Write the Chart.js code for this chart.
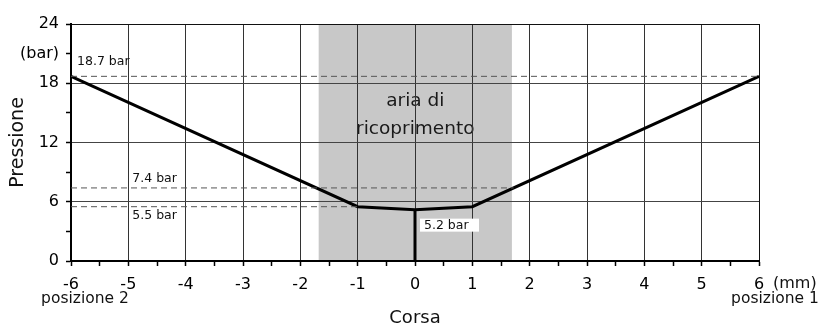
<!DOCTYPE html>
<html>
<head>
<meta charset="utf-8">
<script src="https://cdn.jsdelivr.net/npm/chart.js@4/dist/chart.umd.min.js"></script>
<style>
  html, body { margin: 0; padding: 0; background: #fff; }
  #wrap { width: 823px; height: 327px; }
</style>
</head>
<body>
<div id="wrap"><canvas id="pressureChart" width="823" height="327"></canvas></div>
<script>
// stroke (mm) vs pressure (bar)
const strokeMm = [-6, -1, 0, 1, 6];
const pressureBar = [18.7, 5.5, 5.2, 5.5, 18.7];

// reference levels (dashed) and where each dashed line stops
const refLevels = [18.7, 7.4, 5.5];
const refStart = [-6, -6, -6];
const refEnd = [6, 1.72, -1];

const minPressure = 5.2;
const minStroke = 0;

// covering zone ("aria di ricoprimento")
const overlapZone = [-1.68, 1.69];

const yTickValues = [0, 3, 6, 9, 12, 15, 18, 21, 24];
const yTickLabels = ["0", "", "6", "", "12", "", "18", "(bar)", "24"];

const FONT = "'DejaVu Sans', Verdana, sans-serif";

const toPoints = (xs, ys) => xs.map((x, i) => ({ x, y: ys[i] }));

const dashedSets = refLevels.map((lvl, i) => ({
  data: [{ x: refStart[i], y: lvl }, { x: refEnd[i], y: lvl }],
  borderColor: "#555",
  borderWidth: 1,
  borderDash: [6, 4],
  pointRadius: 0,
  showLine: true,
}));

const annotations = {
  id: "annotations",
  beforeDraw(chart) {
    const { ctx, chartArea, scales } = chart;
    const x0 = scales.x.getPixelForValue(overlapZone[0]);
    const x1 = scales.x.getPixelForValue(overlapZone[1]);
    ctx.save();
    ctx.fillStyle = "#c8c8c8";
    ctx.fillRect(x0, chartArea.top, x1 - x0, chartArea.bottom - chartArea.top);
    // zone caption sits under the grid lines
    ctx.fillStyle = "#1a1a1a";
    ctx.textBaseline = "middle";
    ctx.textAlign = "center";
    ctx.font = "18.5px " + FONT;
    const zc = scales.x.getPixelForValue((overlapZone[0] + overlapZone[1]) / 2);
    ctx.fillText("aria di", zc, 101);
    ctx.fillText("ricoprimento", zc, 129);
    ctx.restore();
  },
  afterDraw(chart) {
    const { ctx, chartArea, scales } = chart;
    const px = (v) => scales.x.getPixelForValue(v);
    const py = (v) => scales.y.getPixelForValue(v);
    ctx.save();
    ctx.fillStyle = "#111";
    ctx.textBaseline = "middle";

    // level labels
    ctx.font = "12.5px " + FONT;
    ctx.textAlign = "left";
    ctx.fillText(refLevels[0] + " bar", px(-6) + 6, py(refLevels[0]) - 15);
    ctx.fillText(refLevels[1] + " bar", px(-5) + 4, py(refLevels[1]) - 9);
    ctx.fillText(refLevels[2] + " bar", px(-5) + 4, py(refLevels[2]) + 9);

    // minimum label with white box
    const mx = px(minStroke) + 5;
    const my = py(minPressure) + 9;
    ctx.fillStyle = "#fff";
    ctx.fillRect(mx, my, 59, 13);
    ctx.fillStyle = "#111";
    ctx.fillText(minPressure + " bar", mx + 4, my + 7);

    // axis extras
    ctx.font = "16px " + FONT;
    ctx.fillText("(mm)", chartArea.right + 14, 284);
    ctx.font = "15.5px " + FONT;
    ctx.textAlign = "center";
    ctx.fillText("posizione 2", 85, 299);
    ctx.fillText("posizione 1", 775, 299);
    ctx.restore();
  },
};

new Chart(document.getElementById("pressureChart"), {
  type: "scatter",
  data: {
    datasets: [
      ...dashedSets,
      {
        data: [{ x: minStroke, y: 0 }, { x: minStroke, y: minPressure }],
        borderColor: "#000",
        borderWidth: 3,
        pointRadius: 0,
        showLine: true,
      },
      {
        data: toPoints(strokeMm, pressureBar),
        borderColor: "#000",
        borderWidth: 3,
        pointRadius: 0,
        showLine: true,
        borderJoinStyle: "miter",
      },
    ],
  },
  options: {
    responsive: false,
    animation: false,
    layout: { padding: { top: 24, right: 64, left: 0, bottom: 0 } },
    plugins: { legend: { display: false }, tooltip: { enabled: false } },
    scales: {
      x: {
        type: "linear",
        min: -6,
        max: 6,
        afterFit: (s) => { s.height = 66; },
        ticks: {
          stepSize: 0.5,
          autoSkip: false,
          maxRotation: 0,
          padding: 9,
          color: "#000",
          font: { family: FONT, size: 16 },
          callback: (v) => (Number.isInteger(v) ? String(v) : ""),
        },
        grid: {
          color: (c) => (c.tick && Number.isInteger(c.tick.value) ? (c.tick.value === 6 ? "#111" : "#333") : "transparent"),
          lineWidth: 1,
          tickColor: "#000",
          tickLength: 5,
          tickWidth: 1.5,
        },
        border: { color: "#000", width: 2 },
        title: {
          display: true,
          text: "Corsa",
          color: "#111",
          font: { family: FONT, size: 18, lineHeight: 1 },
          padding: { top: 0, bottom: 0 },
        },
      },
      y: {
        min: 0,
        max: 24,
        afterFit: (s) => { s.width = 71; },
        afterBuildTicks: (s) => { s.ticks = yTickValues.map((value) => ({ value })); },
        ticks: {
          autoSkip: false,
          padding: 7,
          color: "#000",
          font: { family: FONT, size: 16 },
          callback: (v, i) => yTickLabels[i],
        },
        grid: {
          color: (c) => (c.tick && c.tick.value % 6 === 0 ? (c.tick.value === 24 ? "#111" : "#444") : "transparent"),
          lineWidth: 1,
          tickColor: "#000",
          tickLength: 5,
          tickWidth: 1.5,
        },
        border: { color: "#000", width: 2 },
        title: {
          display: true,
          text: "Pressione",
          color: "#111",
          font: { family: FONT, size: 19 },
          padding: { top: 7, bottom: 0 },
        },
      },
    },
  },
  plugins: [annotations],
});
</script>
</body>
</html>
